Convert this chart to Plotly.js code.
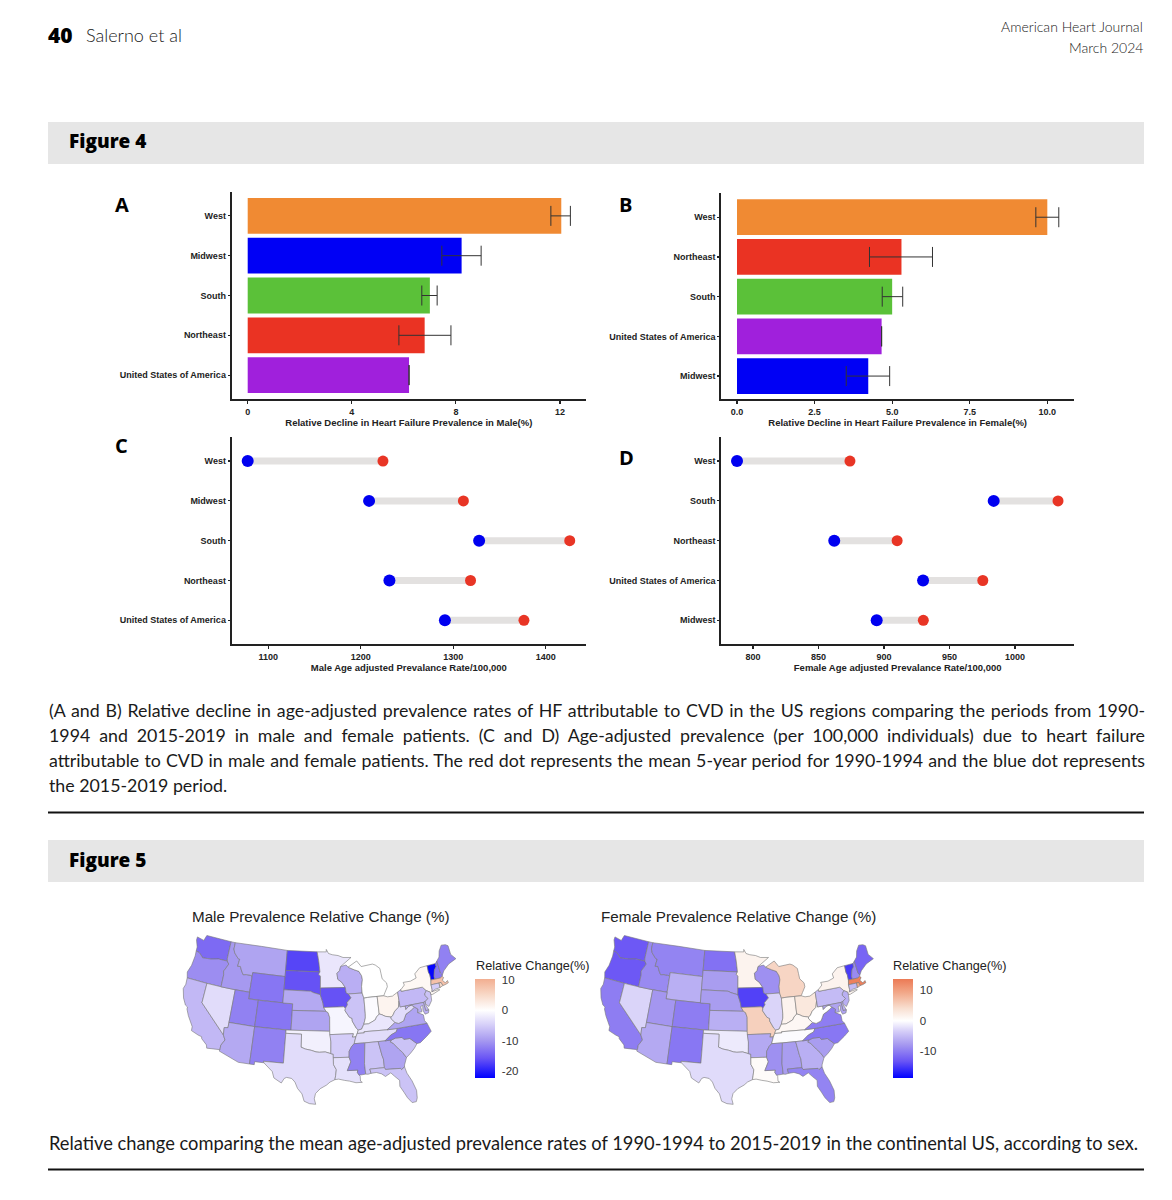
<!DOCTYPE html>
<html><head><meta charset="utf-8">
<script>window.PlotlyGeoAssets={topojson:{usa_110m:{type:"Topology",objects:{},arcs:[]}}};</script>
<script src="https://cdn.plot.ly/plotly-3.0.1.min.js"></script>
<style>html,body{margin:0;padding:0;background:#fff}#c{width:1172px;height:1200px}</style>
</head><body><div id="c"></div>
<script>
var W=1172,H=1200;
// Panel A
var catsA=["United States of America","Northeast","South","Midwest","West"];
var valsA=[6.2,6.8,7.0,8.22,12.05];
var loA=[6.2,5.81,6.69,7.46,11.65];
var hiA=[6.2,7.81,7.28,8.97,12.4];
// Panel B
var catsB=["Midwest","United States of America","South","Northeast","West"];
var valsB=[4.23,4.66,5.0,5.3,10.0];
var loB=[3.52,4.66,4.68,4.27,9.63];
var hiB=[4.92,4.66,5.34,6.3,10.37];
var barColors={"West":"#f08a33","Midwest":"#0000f5","South":"#5bc139","Northeast":"#ea3323","United States of America":"#a020dc"};
// Panel C
var catsC=["United States of America","Northeast","South","Midwest","West"];
var blueC=[1291,1231,1328,1209,1077.7];
var redC=[1376.5,1318.7,1426,1311,1224];
// Panel D
var catsD=["Midwest","United States of America","Northeast","South","West"];
var blueD=[894.4,929.8,862,983.7,787.8];
var redD=[930,975.4,910,1032.8,874];
// Maps
var states=["WA","OR","CA","NV","ID","MT","WY","UT","AZ","CO","NM","ND","SD","NE","KS","OK","TX","MN","IA","MO","AR","LA","WI","IL","MI","IN","OH","KY","TN","MS","AL","GA","FL","SC","NC","VA","WV","PA","NY","VT","NH","ME","MA","CT","RI","NJ","DE","MD"];
var maleChange=[-14,-11,-7,-3.5,-10,-9,-13,-12,-8.5,-13,-12,-17,-16,-8.5,-9,-1.5,-3.5,-2.5,-16,-1,-5,-3,-8,-6,0,-0.5,1.5,-2.5,-3.5,-12,-6,-9,-6,-6,-13,-9,-3.5,-7,1,-22,-13,-12,8,-5,5,-6,-7,-8];
var femaleChange=[-13,-13,-10,-3,-9,-9.5,-6,-8,-6.5,-10,-10.5,-11,-7.5,-7.5,-6,-1.5,-2.5,1.5,-14.5,5.5,-6.5,0.5,-8.5,-3,5,1.5,3,1,-0.3,-8.5,-7.5,-6,-9.5,-7.5,-10.5,-10,0,-5,1.5,-15,-9,-12,13,-5,9,-6,-6,-7];
// State outlines (lon,lat) – the map file cannot be fetched here
var outlines={
WA:[[-124.7,48.38],[-123.1,48.15],[-122.75,49],[-117.03,49],[-117.04,46.42],[-116.92,45.99],[-118.98,46],[-119.3,45.93],[-120.5,45.7],[-121.2,45.65],[-122.3,45.55],[-122.8,45.9],[-123.4,46.2],[-124.05,46.27],[-124.1,46.9],[-124.7,47.9]],
OR:[[-124.05,46.27],[-123.4,46.2],[-122.8,45.9],[-122.3,45.55],[-121.2,45.65],[-120.5,45.7],[-119.3,45.93],[-118.98,46],[-116.92,45.99],[-116.47,45.6],[-116.85,44.95],[-117.22,44.4],[-117.03,43.83],[-117.03,42],[-120,42],[-124.21,42],[-124.55,42.84],[-124.1,44],[-123.95,45.5]],
CA:[[-124.21,42],[-120,42],[-120,39],[-114.63,35],[-114.15,34.3],[-114.72,33.4],[-114.72,32.72],[-117.12,32.53],[-117.3,33],[-118.4,33.75],[-118.5,34.03],[-119.2,34.15],[-120.6,34.55],[-120.65,35.15],[-121.9,36.6],[-122.5,37.5],[-122.5,37.8],[-123,38],[-123.75,38.95],[-124.35,40.3],[-124.1,41]],
NV:[[-120,42],[-117.03,42],[-114.04,42],[-114.04,36.2],[-114.74,36.1],[-114.63,35],[-120,39]],
ID:[[-117.03,49],[-116.05,49],[-116.05,48],[-115.7,47.45],[-114.7,46.7],[-114.35,46.65],[-114.5,45.55],[-113.9,45.6],[-113.45,44.95],[-113,44.45],[-112.3,44.55],[-111.5,44.55],[-111.05,44.47],[-111.05,42],[-114.04,42],[-117.03,42],[-117.03,43.83],[-117.22,44.4],[-116.85,44.95],[-116.47,45.6],[-116.92,45.99],[-117.04,46.42]],
MT:[[-116.05,49],[-104.05,49],[-104.05,45],[-111.05,45],[-111.05,44.47],[-111.5,44.55],[-112.3,44.55],[-113,44.45],[-113.45,44.95],[-113.9,45.6],[-114.5,45.55],[-114.35,46.65],[-114.7,46.7],[-115.7,47.45],[-116.05,48]],
WY:[[-111.05,45],[-104.05,45],[-104.05,41],[-111.05,41]],
UT:[[-114.04,42],[-111.05,42],[-111.05,41],[-109.05,41],[-109.05,37],[-114.04,37]],
AZ:[[-114.04,37],[-109.05,37],[-109.05,31.33],[-111.07,31.33],[-114.81,32.5],[-114.72,32.72],[-114.72,33.4],[-114.15,34.3],[-114.63,35],[-114.74,36.1],[-114.04,36.2]],
CO:[[-109.05,41],[-102.05,41],[-102.05,37],[-109.05,37]],
NM:[[-109.05,37],[-103,37],[-103.04,32],[-106.62,32],[-106.53,31.78],[-108.2,31.78],[-108.2,31.33],[-109.05,31.33]],
ND:[[-104.05,49],[-97.23,49],[-96.85,47.6],[-96.56,45.94],[-104.05,45.94]],
SD:[[-104.05,45.94],[-96.56,45.94],[-96.85,45.6],[-96.45,45.3],[-96.45,43.5],[-96.45,42.49],[-97.9,42.8],[-98.5,43],[-104.05,43]],
NE:[[-104.05,43],[-98.5,43],[-97.9,42.8],[-96.45,42.49],[-96.1,41.7],[-95.9,41.2],[-95.77,40.58],[-95.31,40],[-102.05,40],[-102.05,41],[-104.05,41]],
KS:[[-102.05,40],[-95.31,40],[-94.9,39.8],[-94.6,39.1],[-94.62,37],[-102.05,37]],
OK:[[-103,37],[-94.62,37],[-94.43,35.4],[-94.48,33.64],[-95.5,33.9],[-96.6,33.85],[-97.2,33.9],[-98.1,34.13],[-99.2,34.3],[-100,34.56],[-100,36.5],[-103,36.5]],
TX:[[-103,36.5],[-100,36.5],[-100,34.56],[-99.2,34.3],[-98.1,34.13],[-97.2,33.9],[-96.6,33.85],[-95.5,33.9],[-94.48,33.64],[-94.04,33.55],[-94.04,33.02],[-94.04,31.99],[-93.55,31.2],[-93.7,30.3],[-93.84,29.7],[-94.7,29.35],[-95.3,28.9],[-96.4,28.35],[-97.2,27.6],[-97.4,26.8],[-97.15,25.96],[-98.2,26.05],[-99.1,26.4],[-99.5,27.5],[-100.3,28.3],[-100.8,29.25],[-101.4,29.77],[-102.3,29.88],[-102.7,29.7],[-103.15,28.98],[-104.5,29.65],[-104.9,30.6],[-106.53,31.78],[-106.62,32],[-103.04,32]],
MN:[[-97.23,49],[-95.15,49],[-95.15,49.38],[-94.65,48.75],[-93.8,48.55],[-92.5,48.4],[-91.4,48.07],[-89.6,48],[-92.01,46.71],[-92.29,46.08],[-92.87,45.7],[-92.75,44.8],[-91.9,44.3],[-91.22,43.5],[-96.45,43.5],[-96.45,45.3],[-96.85,45.6],[-96.56,45.94],[-96.85,47.6]],
IA:[[-96.45,43.5],[-91.22,43.5],[-91.1,42.7],[-90.64,42.5],[-90.15,41.9],[-91.05,41.2],[-90.95,40.9],[-91.42,40.38],[-91.73,40.61],[-95.77,40.58],[-95.9,41.2],[-96.1,41.7],[-96.45,42.49]],
MO:[[-95.77,40.58],[-91.73,40.61],[-91.42,40.38],[-91.5,40],[-90.7,39],[-90.2,38.8],[-90.2,38.4],[-89.5,37.3],[-89.15,37],[-89.4,36.5],[-89.7,36],[-90.37,36],[-90.15,36.5],[-94.62,36.5],[-94.62,37],[-94.6,39.1],[-94.9,39.8],[-95.31,40]],
AR:[[-94.62,36.5],[-90.15,36.5],[-90.37,36],[-89.7,36],[-90.1,35],[-90.6,34.6],[-91.1,33.9],[-91.17,33],[-94.04,33.02],[-94.04,33.55],[-94.48,33.64],[-94.43,35.4]],
LA:[[-94.04,33.02],[-91.17,33],[-90.9,32.3],[-91.6,31],[-89.73,31],[-89.85,30.65],[-89.55,30.2],[-89.4,30.05],[-89.4,29.3],[-89.1,29.1],[-90.2,29.1],[-91.3,29.4],[-92.2,29.55],[-93.2,29.77],[-93.84,29.7],[-93.7,30.3],[-93.55,31.2],[-94.04,31.99]],
WI:[[-92.01,46.71],[-90.8,46.9],[-90.4,46.55],[-89.1,46.1],[-88.1,45.8],[-87.6,45.1],[-87.5,44.5],[-87.8,43.5],[-87.8,42.5],[-90.64,42.5],[-91.1,42.7],[-91.22,43.5],[-91.9,44.3],[-92.75,44.8],[-92.87,45.7],[-92.29,46.08]],
IL:[[-90.64,42.5],[-87.8,42.5],[-87.53,41.7],[-87.53,39.35],[-87.6,38.7],[-88,37.8],[-88.5,37.1],[-89.15,37],[-89.5,37.3],[-90.2,38.4],[-90.2,38.8],[-90.7,39],[-91.5,40],[-91.42,40.38],[-90.95,40.9],[-91.05,41.2],[-90.15,41.9]],
MI:[[-90.4,46.55],[-88.4,47.4],[-87.5,46.5],[-85,46.7],[-84.4,46.5],[-83.5,45.9],[-83.4,45.1],[-83.3,44.3],[-82.5,43.6],[-82.45,43],[-83.1,42.2],[-83.45,41.73],[-84.8,41.76],[-86.8,41.76],[-87.53,41.7],[-87.8,42.5],[-87.8,43.5],[-87.5,44.5],[-87.6,45.1],[-88.1,45.8],[-89.1,46.1]],
IN:[[-87.53,41.7],[-86.8,41.76],[-84.8,41.76],[-84.8,39.1],[-85.4,38.7],[-85.7,38.3],[-86.5,38],[-87.1,37.8],[-88,37.8],[-87.6,38.7],[-87.53,39.35]],
OH:[[-84.8,41.76],[-83.45,41.73],[-82.7,41.5],[-81.7,41.5],[-80.52,41.98],[-80.52,40.64],[-80.85,39.7],[-81.7,39.2],[-82.2,38.6],[-82.6,38.42],[-83.7,38.65],[-84.3,38.95],[-84.8,39.1]],
KY:[[-89.4,36.5],[-89.15,37],[-88.5,37.1],[-88,37.8],[-87.1,37.8],[-86.5,38],[-85.7,38.3],[-85.4,38.7],[-84.8,39.1],[-84.3,38.95],[-83.7,38.65],[-82.6,38.42],[-82.6,38.15],[-81.97,37.54],[-82.7,37.1],[-83.68,36.6],[-88.07,36.68],[-88.05,36.5]],
TN:[[-90.1,35],[-89.7,36],[-89.4,36.5],[-88.05,36.5],[-88.07,36.68],[-83.68,36.6],[-81.68,36.59],[-82,36.1],[-83.1,35.75],[-84.32,34.99],[-85.6,35],[-88.2,35]],
MS:[[-90.1,35],[-88.2,35],[-88.1,34.9],[-88.47,31.9],[-88.4,30.3],[-89.55,30.2],[-89.85,30.65],[-89.73,31],[-91.6,31],[-90.9,32.3],[-91.17,33],[-91.1,33.9],[-90.6,34.6]],
AL:[[-88.2,35],[-85.6,35],[-85.18,32.87],[-85,32.3],[-85,31],[-87.6,31],[-87.45,30.35],[-88,30.25],[-88.4,30.3],[-88.47,31.9],[-88.1,34.9]],
GA:[[-85.6,35],[-84.32,34.99],[-83.1,35],[-83.35,34.7],[-82.9,34.5],[-82,33.5],[-81.4,32.9],[-80.85,32.05],[-81.4,31],[-81.45,30.7],[-82.05,30.36],[-82.2,30.57],[-84.86,30.7],[-85,31],[-85,32.3],[-85.18,32.87]],
FL:[[-87.6,31],[-85,31],[-84.86,30.7],[-82.2,30.57],[-82.05,30.36],[-81.45,30.7],[-81.2,29.7],[-80.55,28.45],[-80.05,26.9],[-80.15,25.75],[-80.4,25.2],[-81.1,25.15],[-81.75,26],[-82.2,26.9],[-82.75,27.9],[-82.65,28.8],[-83.4,29.5],[-84,30.1],[-85,29.65],[-85.6,30.1],[-86.5,30.4],[-87.45,30.35]],
SC:[[-83.1,35],[-82.3,35.2],[-81.05,35.15],[-80.8,34.82],[-79.67,34.8],[-78.55,33.85],[-79.2,33.2],[-80,32.6],[-80.85,32.05],[-81.4,32.9],[-82,33.5],[-82.9,34.5],[-83.35,34.7]],
NC:[[-84.32,34.99],[-83.1,35.75],[-82,36.1],[-81.68,36.59],[-75.95,36.55],[-75.5,35.25],[-76.5,34.65],[-77.9,33.9],[-78.55,33.85],[-79.67,34.8],[-80.8,34.82],[-81.05,35.15],[-82.3,35.2],[-83.1,35]],
VA:[[-83.68,36.6],[-82.7,37.1],[-81.97,37.54],[-81.3,37.3],[-80.3,37.55],[-79.6,38.5],[-78.9,38.75],[-78.35,39],[-77.72,39.32],[-77.1,38.9],[-77.3,38.4],[-76.3,37.9],[-76.3,37],[-75.95,36.55],[-81.68,36.59]],
WV:[[-82.6,38.42],[-82.2,38.6],[-81.7,39.2],[-80.85,39.7],[-80.52,40.64],[-80.52,39.72],[-79.48,39.72],[-79.48,39.2],[-78.8,39.6],[-78.2,39.68],[-77.72,39.32],[-78.35,39],[-78.9,38.75],[-79.6,38.5],[-80.3,37.55],[-81.3,37.3],[-81.97,37.54],[-82.6,38.15]],
PA:[[-80.52,41.98],[-79.76,42.27],[-79.76,42],[-75.35,42],[-74.7,41.36],[-75.13,40.97],[-75.2,40.7],[-74.72,40.15],[-75.4,39.8],[-75.79,39.72],[-79.48,39.72],[-80.52,39.72],[-80.52,40.64]],
NY:[[-79.76,42.27],[-78.9,42.85],[-79.05,43.27],[-77.5,43.25],[-76.2,43.55],[-76.3,44.2],[-75,44.95],[-73.35,45],[-73.4,44],[-73.25,43.55],[-73.28,42.75],[-73.5,42.05],[-73.5,41.3],[-73.65,41],[-72.3,41.1],[-72,41],[-73.6,40.6],[-74,40.6],[-74,41],[-74.7,41.36],[-75.35,42],[-79.76,42]],
VT:[[-73.35,45],[-71.5,45.01],[-71.55,44.5],[-72.05,44.1],[-72.45,43.2],[-72.46,42.73],[-73.28,42.75],[-73.25,43.55],[-73.4,44]],
NH:[[-71.5,45.01],[-71.08,45.3],[-70.98,43.4],[-70.7,43.07],[-70.85,42.87],[-71.3,42.7],[-72.46,42.73],[-72.45,43.2],[-72.05,44.1],[-71.55,44.5]],
ME:[[-71.08,45.3],[-70.4,45.8],[-70,46.7],[-69.22,47.46],[-68.3,47.35],[-67.8,47.07],[-67.8,45.7],[-67,44.85],[-68.8,44.4],[-70.2,43.6],[-70.7,43.07],[-70.98,43.4]],
MA:[[-73.5,42.05],[-73.28,42.75],[-71.3,42.7],[-70.85,42.87],[-70.6,42.65],[-71,42.3],[-70.55,41.8],[-70,42.05],[-69.95,41.7],[-70.6,41.55],[-71.2,41.5],[-71.38,42.02],[-71.8,42.02]],
CT:[[-73.5,42.05],[-71.8,42.02],[-71.85,41.32],[-72.9,41.25],[-73.65,41],[-73.5,41.3]],
RI:[[-71.8,42.02],[-71.38,42.02],[-71.2,41.5],[-71.85,41.32]],
NJ:[[-74.7,41.36],[-74,41],[-74,40.45],[-74.1,39.75],[-74.9,38.95],[-75.5,39.5],[-75.4,39.8],[-74.72,40.15],[-75.2,40.7],[-75.13,40.97]],
DE:[[-75.79,39.72],[-75.4,39.8],[-75.5,39.4],[-75.05,38.45],[-75.7,38.46]],
MD:[[-79.48,39.72],[-75.79,39.72],[-75.7,38.46],[-75.05,38.45],[-75.25,38.03],[-75.95,37.95],[-76.2,38.6],[-76.05,39.3],[-76.5,39.2],[-76.45,38.4],[-77.3,38.4],[-77.1,38.9],[-77.72,39.32],[-78.2,39.68],[-78.8,39.6],[-79.48,39.2]]
};
var captionLines=[
"(A and B) Relative decline in age-adjusted prevalence rates of HF attributable to CVD in the US regions comparing the periods from 1990-",
"1994 and 2015-2019 in male and female patients. (C and D) Age-adjusted prevalence (per 100,000 individuals) due to heart failure",
"attributable to CVD in male and female patients. The red dot represents the mean 5-year period for 1990-1994 and the blue dot represents",
"the 2015-2019 period."];
var caption5="Relative change comparing the mean age-adjusted prevalence rates of 1990-1994 to 2015-2019 in the continental US, according to sex.";

function clockwise(r){var a=0;for(var i=0;i<r.length;i++){var p=r[i],q=r[(i+1)%r.length];a+=(q[0]-p[0])*(q[1]+p[1]);}return a>0?r:r.slice().reverse();}
var usGeo={type:"FeatureCollection",features:states.map(function(s){var r=clockwise(outlines[s]);return {type:"Feature",id:s,properties:{},geometry:{type:"Polygon",coordinates:[r.concat([r[0]])]}}})};

var BF="Liberation Sans, Arial, sans-serif", CF="Lato, sans-serif", HF="Open Sans, sans-serif";
function px(x){return x/W} function py(y){return 1-y/H}
var layout={width:W,height:H,margin:{l:0,r:0,t:0,b:0},paper_bgcolor:"#fff",plot_bgcolor:"rgba(0,0,0,0)",showlegend:false,barmode:"overlay",shapes:[],annotations:[]};
function axes(n,x0,x1,y0,y1,xr,yr,cats,xtick,title,stand){
  var s=n==1?"":n;
  layout["xaxis"+s]={domain:[px(x0),px(x1)],range:xr,anchor:"y"+s,showline:true,linecolor:"#222",linewidth:2,ticks:"outside",ticklen:3,tickwidth:1.2,tickcolor:"#222",showgrid:false,zeroline:false,tickvals:xtick.v,ticktext:xtick.t,tickfont:{family:BF,size:9,color:"#222",weight:700},title:{text:title,font:{family:BF,size:9.5,color:"#222",weight:700},standoff:stand}};
  layout["yaxis"+s]={domain:[py(y1),py(y0)],range:yr,anchor:"x"+s,type:"category",categoryorder:"array",categoryarray:cats,showline:true,linecolor:"#222",linewidth:2,ticks:"outside",ticklen:2,tickwidth:1.2,tickcolor:"#222",showgrid:false,zeroline:false,tickfont:{family:BF,size:9,color:"#222",weight:700}};
}
axes(1,231.7,586,192,399,[-0.615,13.0],[-0.6,4.6],catsA,{v:[0,4,8,12],t:["0","4","8","12"]},"Relative Decline in Heart Failure Prevalence in Male(%)",4);
axes(2,721.3,1074,193,399.3,[-0.506,10.86],[-0.585,4.61],catsB,{v:[0,2.5,5,7.5,10],t:["0.0","2.5","5.0","7.5","10.0"]},"Relative Decline in Heart Failure Prevalence in Female(%)",3);
axes(3,231.7,586,437,643.7,[1060.4,1443.6],[-0.588,4.605],catsC,{v:[1100,1200,1300,1400],t:["1100","1200","1300","1400"]},"Male Age adjusted Prevalance Rate/100,000",4);
axes(4,721.3,1074,437,643.7,[775.8,1045],[-0.588,4.605],catsD,{v:[800,850,900,950,1000],t:["800","850","900","950","1000"]},"Female Age adjusted Prevalance Rate/100,000",4);

var traces=[];
function bars(n,cats,vals,lo,hi){
  var s=n==1?"":n;
  traces.push({type:"bar",orientation:"h",x:vals,y:cats,xaxis:"x"+s,yaxis:"y"+s,width:0.9,marker:{color:cats.map(function(c){return barColors[c]}),line:{width:0}},
    error_x:{type:"data",symmetric:false,array:hi.map(function(h,i){return h-vals[i]}),arrayminus:lo.map(function(l,i){return vals[i]-l}),thickness:1,width:10,color:"#333"}});
}
bars(1,catsA,valsA,loA,hiA);bars(2,catsB,valsB,loB,hiB);
function dumb(n,cats,blue,red){
  var s=n==1?"":n,lx=[],ly=[];
  cats.forEach(function(c,i){lx.push(blue[i],red[i],null);ly.push(c,c,null)});
  traces.push({type:"scatter",mode:"lines",x:lx,y:ly,xaxis:"x"+s,yaxis:"y"+s,line:{color:"#e3e1e0",width:7}});
  traces.push({type:"scatter",mode:"markers",x:blue,y:cats,xaxis:"x"+s,yaxis:"y"+s,marker:{color:"#0000f0",size:12}});
  traces.push({type:"scatter",mode:"markers",x:red,y:cats,xaxis:"x"+s,yaxis:"y"+s,marker:{color:"#e83525",size:11}});
}
dumb(3,catsC,blueC,redC);dumb(4,catsD,blueD,redD);

function mapTrace(geo,z,zmin,zmax,cs,cbx,ticks){
  traces.push({type:"choropleth",geo:geo,locationmode:"geojson-id",geojson:usGeo,featureidkey:"id",locations:states,z:z,zmin:zmin,zmax:zmax,colorscale:cs,marker:{line:{color:"#777",width:0.6}},
   colorbar:{x:px(cbx),xanchor:"left",y:py(1078),yanchor:"bottom",len:99/H,lenmode:"fraction",thickness:20,outlinewidth:0,ticks:"outside",ticklen:5,tickcolor:"rgba(0,0,0,0)",tickvals:ticks,ticktext:ticks.map(String),tickfont:{family:BF,size:11.5,color:"#333"},xpad:0,ypad:0}});
}
var csM=[[0,"#0000ff"],[0.2,"#6a55f5"],[0.38,"#a79af0"],[0.53,"#d4cdf8"],[0.684,"#ffffff"],[0.84,"#f8d9c8"],[1,"#f2ae90"]];
var csF=[[0,"#0000ff"],[0.17,"#6a55f5"],[0.34,"#a79af0"],[0.47,"#d4cdf8"],[0.578,"#ffffff"],[0.7,"#f8e0d2"],[0.86,"#f2a98a"],[1,"#ec7a55"]];
mapTrace("geo",maleChange,-22.3,10.3,csM,475.3,[-20,-10,0,10]);
mapTrace("geo2",femaleChange,-18.75,13.7,csF,892.7,[-10,0,10]);
function geo(x0,x1,y0,y1){return {domain:{x:[px(x0),px(x1)],y:[py(y1),py(y0)]},scope:"usa",projection:{type:"albers usa"},showland:false,showlakes:false,showsubunits:false,showcountries:false,showocean:false,showrivers:false,bgcolor:"rgba(0,0,0,0)",showframe:false,showcoastlines:false}}
layout.geo=geo(147.5,491.5,907.5,1132.5);layout.geo2=geo(565,909,907.5,1132.5);

function rect(x0,y0,x1,y1,c){layout.shapes.push({type:"rect",xref:"paper",yref:"paper",x0:px(x0),x1:px(x1),y0:py(y0),y1:py(y1),fillcolor:c,line:{width:0},layer:"below"})}
rect(48,122,1144,164,"#e6e6e6");rect(48,840,1144,882,"#e6e6e6");rect(48,811.5,1144,813.5,"#111");rect(48,1168.5,1144,1170.5,"#111");
function txt(x,y,t,size,fam,opt){opt=opt||{};layout.annotations.push({xref:"paper",yref:"paper",x:px(x),y:py(y),text:t,showarrow:false,xanchor:opt.a||"left",yanchor:"middle",font:{family:fam,size:size,color:opt.c||"#1a1a1a",weight:opt.w||400},borderpad:0})}
txt(47,35.5,"40",21,HF,{w:800,c:"#000"});txt(84.5,35.5,"Salerno et al",18,CF,{w:300});
txt(1143.5,26,"American Heart Journal",14,CF,{a:"right",w:300});txt(1143.5,47,"March 2024",14,CF,{a:"right",w:300});
txt(68,141,"Figure 4",19,HF,{w:800,c:"#000"});txt(68,860,"Figure 5",19,HF,{w:800,c:"#000"});
txt(114,204.5,"A",20,HF,{w:700,c:"#000"});txt(618,204.5,"B",20,HF,{w:700,c:"#000"});txt(114,445,"C",20,HF,{w:700,c:"#000"});txt(618,457.5,"D",20,HF,{w:700,c:"#000"});
[709.5,734.5,759.5,784.5].forEach(function(y,i){txt(47.5,y,captionLines[i],17.8,CF,{w:400})});
txt(47.5,1142.5,caption5,18.3,CF,{w:400});
txt(190.5,916.5,"Male Prevalence Relative Change (%)",15.2,BF,{c:"#222"});txt(599.5,916.5,"Female Prevalence Relative Change (%)",15.2,BF,{c:"#222"});
txt(474.5,966,"Relative Change(%)",12.7,BF,{c:"#222"});txt(891.5,966,"Relative Change(%)",12.7,BF,{c:"#222"});
Plotly.newPlot("c",traces,layout,{displayModeBar:false,staticPlot:true}).then(function(){
  // justified caption lines: stretch the word gaps to the column width
  document.querySelectorAll(".annotation-text").forEach(function(t){
    var i=captionLines.indexOf(t.textContent);
    if(i<0||i>2)return;
    var len=t.getComputedTextLength(),extra=1096-len,gaps=t.textContent.split(" ").length-1;
    t.style.wordSpacing=(extra/gaps)+"px";
    t.setAttribute("x",parseFloat(t.getAttribute("x")||0)+extra/2);
  });
});
</script></body></html>
